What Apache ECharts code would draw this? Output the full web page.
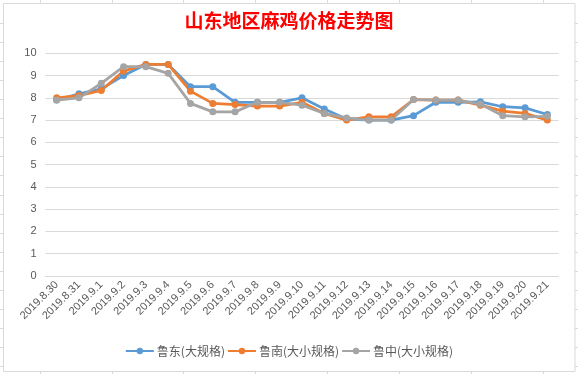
<!DOCTYPE html>
<html><head><meta charset="utf-8">
<script src="https://cdn.jsdelivr.net/npm/echarts@6/dist/echarts.min.js"></script>
<style>html,body{margin:0;padding:0;background:#fff}#c{width:578px;height:374px}</style>
</head><body><div id="c"></div>
<script>
var categories = ['2019.8.30','2019.8.31','2019.9.1','2019.9.2','2019.9.3','2019.9.4','2019.9.5','2019.9.6','2019.9.7','2019.9.8','2019.9.9','2019.9.10','2019.9.11','2019.9.12','2019.9.13','2019.9.14','2019.9.15','2019.9.16','2019.9.17','2019.9.18','2019.9.19','2019.9.20','2019.9.21'];
var seriesNames = ['鲁东(大规格)','鲁南(大小规格)','鲁中(大小规格)'];
var ludong = [7.9, 8.18, 8.4, 9.0, 9.5, 9.5, 8.5, 8.5, 7.8, 7.8, 7.8, 8.0, 7.5, 7.05, 7.0, 7.0, 7.2, 7.8, 7.8, 7.82, 7.6, 7.55, 7.25];
var lunan = [8.0, 8.1, 8.33, 9.2, 9.5, 9.5, 8.3, 7.75, 7.7, 7.63, 7.63, 7.8, 7.3, 7.0, 7.15, 7.15, 7.92, 7.9, 7.9, 7.67, 7.4, 7.3, 7.0];
var luzhong = [7.9, 8.0, 8.65, 9.4, 9.4, 9.1, 7.75, 7.37, 7.37, 7.8, 7.8, 7.67, 7.3, 7.1, 7.0, 7.0, 7.93, 7.9, 7.9, 7.72, 7.2, 7.15, 7.17];
var titleText = '山东地区麻鸡价格走势图';

var colors = ['#5B9BD5', '#ED7D31', '#A5A5A5'];
var gc = '#D9D9D9';
var g = [];
g.push({type:'rect', shape:{x:3.5,y:3.5,width:571.5,height:368}, style:{fill:'none', stroke:gc, lineWidth:1}, silent:true});
[40,112,183,255,327,399,471,543].forEach(function(x){
  g.push({type:'line', shape:{x1:x+0.5,y1:0,x2:x+0.5,y2:3}, style:{stroke:gc,lineWidth:1}, silent:true});
  g.push({type:'line', shape:{x1:x+0.5,y1:372,x2:x+0.5,y2:374}, style:{stroke:gc,lineWidth:1}, silent:true});
});
for (var r = 0; r < 19; r++) {
  var y = Math.round(23 + r * 19.06) + 0.5;
  g.push({type:'line', shape:{x1:0,y1:y,x2:3,y2:y}, style:{stroke:gc,lineWidth:1}, silent:true});
  g.push({type:'line', shape:{x1:575,y1:y,x2:578,y2:y}, style:{stroke:gc,lineWidth:1}, silent:true});
}

function mk(name, data, i) {
  return {
    name: name, type: 'line', data: data,
    symbol: 'circle', symbolSize: 7,
    lineStyle: {width: 2.75, color: colors[i]},
    itemStyle: {color: colors[i]},
    animation: false
  };
}

var chart = echarts.init(document.getElementById('c'));
chart.setOption({
  animation: false,
  title: {text: titleText, left: 'center', top: 6,
    textStyle: {color: '#FF0000', fontSize: 19, fontWeight: 'bold', fontFamily: 'Noto Sans CJK SC'}},
  grid: {left: 45.5, right: 19.5, top: 53.3, bottom: 98, containLabel: false},
  legend: {bottom: 12, left: 'center', itemWidth: 28, itemHeight: 8, itemGap: 2,
    textStyle: {color: '#595959', fontSize: 12, fontFamily: 'Noto Sans CJK SC', padding: [0,0,0,-2]},
    data: seriesNames},
  xAxis: {type: 'category', data: categories, boundaryGap: true,
    axisLine: {lineStyle: {color: gc}}, axisTick: {show: false},
    axisLabel: {rotate: 45, interval: 0, color: '#595959', fontSize: 11, fontFamily: 'Liberation Sans', margin: 7}},
  yAxis: {type: 'value', min: 0, max: 10, interval: 1,
    axisLine: {show: false}, axisTick: {show: false},
    splitLine: {lineStyle: {color: gc, width: 1}},
    axisLabel: {color: '#595959', fontSize: 11, fontFamily: 'Liberation Sans', margin: 9}},
  graphic: g,
  series: [mk(seriesNames[0], ludong, 0), mk(seriesNames[1], lunan, 1), mk(seriesNames[2], luzhong, 2)]
});
</script></body></html>
